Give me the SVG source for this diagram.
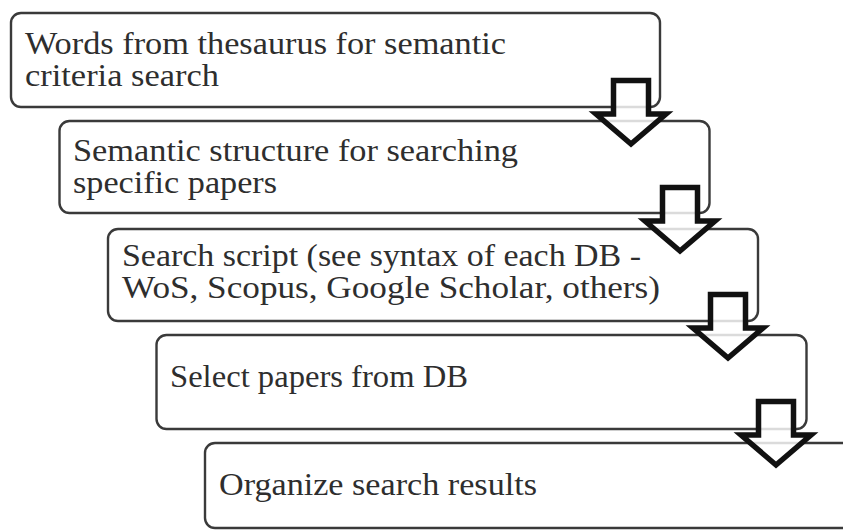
<svg xmlns="http://www.w3.org/2000/svg" width="843" height="531" viewBox="0 0 843 531">
  <style>
    .box { fill: #ffffff; stroke: #3a3a3a; stroke-width: 2.4; }
    .label { font-family: "Liberation Serif", "Times New Roman", serif; font-size: 31px; fill: #2e2e2e; }
    .step-arrow { fill: #ffffff; fill-opacity: 0.82; stroke: #111111; stroke-width: 5.5; stroke-linejoin: miter; }
  </style>
  <defs>
    <!-- hollow block arrow, origin at top centre of shaft -->
    <path id="blockArrow" d="M -17.5 2.5 L 17.5 2.5 L 17.5 36 L 35 36 L 0 66 L -35 36 L -17.5 36 Z"/>
  </defs>

  <g id="node-thesaurus">
    <rect class="box" x="11" y="13" width="649" height="94" rx="10"/>
    <text class="label" x="25" y="54" textLength="481" lengthAdjust="spacingAndGlyphs">Words from thesaurus for semantic</text>
    <text class="label" x="25" y="86" textLength="194" lengthAdjust="spacingAndGlyphs">criteria search</text>
  </g>

  <g id="node-structure">
    <rect class="box" x="59.5" y="121" width="650" height="92" rx="10"/>
    <text class="label" x="73" y="161" textLength="445" lengthAdjust="spacingAndGlyphs">Semantic structure for searching</text>
    <text class="label" x="73" y="193" textLength="204" lengthAdjust="spacingAndGlyphs">specific papers</text>
  </g>

  <g id="node-script">
    <rect class="box" x="108" y="229" width="650" height="92" rx="10"/>
    <text class="label" x="122" y="266" textLength="519" lengthAdjust="spacingAndGlyphs">Search script (see syntax of each DB -</text>
    <text class="label" x="122" y="298" textLength="538" lengthAdjust="spacingAndGlyphs">WoS, Scopus, Google Scholar, others)</text>
  </g>

  <g id="node-select">
    <rect class="box" x="156.5" y="335" width="650" height="94" rx="10"/>
    <text class="label" x="170" y="387" textLength="298" lengthAdjust="spacingAndGlyphs">Select papers from DB</text>
  </g>

  <g id="node-organize">
    <rect class="box" x="205" y="443" width="660" height="85" rx="10"/>
    <text class="label" x="219" y="495" textLength="318" lengthAdjust="spacingAndGlyphs">Organize search results</text>
  </g>

  <g id="connectors">
    <use href="#blockArrow" class="step-arrow" x="631" y="78"/>
    <use href="#blockArrow" class="step-arrow" x="680" y="185"/>
    <use href="#blockArrow" class="step-arrow" x="728" y="292"/>
    <use href="#blockArrow" class="step-arrow" x="776" y="399"/>
  </g>
</svg>
